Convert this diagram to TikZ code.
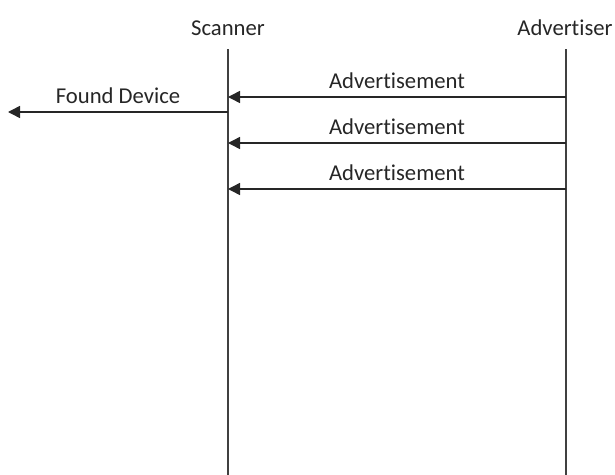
\documentclass[tikz,border=0pt]{standalone}
\usepackage{fontspec}
\setmainfont{Carlito}[Ligatures=NoCommon]
\usetikzlibrary{arrows.meta}
\tikzset{>={Triangle[length=9pt,width=9pt]}}

\begin{document}
\begin{tikzpicture}[x=0.75pt,y=-0.75pt,
        every node/.style={font=\fontsize{17}{20}\selectfont,text=black!85},
        lifeline/.style={draw=black!75,line width=1.1pt},
        msg/.style={draw=black!85,line width=1.1pt,->}]
  \useasboundingbox (0,0) rectangle (615,475);
  % participants
  \node (scanner) at (228,28) {Scanner};
  \node (advertiser) at (565,28) {Advertiser};
  \coordinate (scan top) at (228,49);
  \coordinate (scan bot) at (228,475);
  \coordinate (adv top) at (566,49);
  \coordinate (adv bot) at (566,475);
  \draw[lifeline] (scan top) -- (scan bot);
  \draw[lifeline] (adv top) -- (adv bot);
  % advertising packets
  \foreach \i/\y in {1/97,2/143,3/189} {
    \coordinate (adv\i) at (566,\y);
    \coordinate (scan\i) at (228,\y);
    \draw[msg] (adv\i) -- node[above,yshift=2pt] {Advertisement} (scan\i);
  }
  % report to host
  \coordinate (scan found) at (228,112);
  \coordinate (host) at (8,112);
  \draw[msg] (scan found) -- node[above,yshift=2pt] {Found Device} (host);
\end{tikzpicture}
\end{document}
